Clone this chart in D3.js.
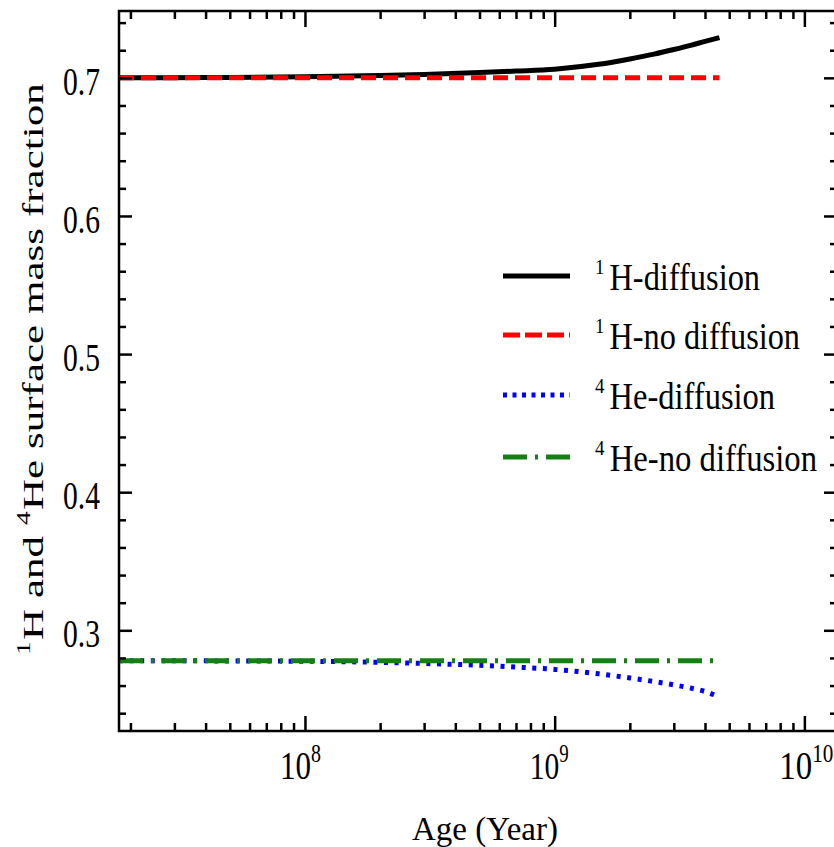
<!DOCTYPE html>
<html>
<head>
<meta charset="utf-8">
<script src="https://cdn.jsdelivr.net/npm/d3@7"></script>
<style>
  html, body { margin: 0; padding: 0; background: #fff; }
  svg { display: block; }
  text { font-family: "Liberation Serif", "Times New Roman", serif; fill: #000; }
</style>
</head>
<body>
<svg id="chart" width="834" height="847"></svg>
<script>
// ---- data ----
const ages      = [1.8e7, 3e7, 5e7, 1e8, 2e8, 3e8, 5e8, 7e8, 1e9, 1.5e9, 2e9, 2.5e9, 3e9, 3.5e9, 4e9, 4.57e9];
const hDiff     = [0.7000, 0.7001, 0.7003, 0.7008, 0.7017, 0.7025, 0.7038, 0.7049, 0.7063, 0.7098, 0.7137, 0.7172, 0.7205, 0.7235, 0.7264, 0.7291];
const hNoDiff   = [0.7000, 0.7000, 0.7000, 0.7000, 0.7000, 0.7000, 0.7000, 0.7000, 0.7000, 0.7000, 0.7000, 0.7000, 0.7000, 0.7000, 0.7000, 0.7000];
const heDiff    = [0.2780, 0.2780, 0.2778, 0.2776, 0.2768, 0.2760, 0.2747, 0.2734, 0.2717, 0.2685, 0.2655, 0.2629, 0.2605, 0.2582, 0.2557, 0.2517];
const heNoDiff  = [0.2780, 0.2780, 0.2780, 0.2780, 0.2780, 0.2780, 0.2780, 0.2780, 0.2780, 0.2780, 0.2780, 0.2780, 0.2780, 0.2780, 0.2780, 0.2780];

const yTickLabels = ["0.3", "0.4", "0.5", "0.6", "0.7"];
const yTickValues = [0.3, 0.4, 0.5, 0.6, 0.7];
const xTickExponents = [8, 9, 10];
const seriesNames = [["1", "H-diffusion"], ["1", "H-no diffusion"], ["4", "He-diffusion"], ["4", "He-no diffusion"]];
const xAxisTitle = "Age (Year)";

// ---- layout ----
const L = 119, R = 837, T = 11, B = 731;
const svg = d3.select("#chart");

const x = d3.scaleLog().domain([1.8e7, 1.351e10]).range([L, R]);
const y = d3.scaleLinear().domain([0.2271, 0.7484]).range([B, T]);

const series = [
  { vals: hDiff,    color: "#000000", dash: null,        legDash: null },
  { vals: hNoDiff,  color: "#ff0000", dash: "15,7",      legDash: "17,5" },
  { vals: heDiff,   color: "#0000ff", dash: "4,6.6",     legDash: "4,5.5" },
  { vals: heNoDiff, color: "#138013", dash: "24,8,3,8",  legDash: "24,8,3,8" }
];

// ---- lines ----
const line = d3.line().x(d => x(d[0])).y(d => y(d[1])).curve(d3.curveMonotoneX);
const gLines = svg.append("g");
series.forEach(s => {
  gLines.append("path")
    .datum(ages.map((a, i) => [a, s.vals[i]]))
    .attr("d", line)
    .attr("fill", "none")
    .attr("stroke", s.color)
    .attr("stroke-width", 5)
    .attr("stroke-dasharray", s.dash)
    .attr("stroke-linecap", "butt");
});

// ---- axes ----
const axisW = 2.5;
const xMajor = xTickExponents.map(e => Math.pow(10, e));
const xMinor = [];
for (let e = 7; e <= 10; e++) for (let m = 2; m <= 9; m++) {
  const v = m * Math.pow(10, e);
  if (v > x.domain()[0] && v < x.domain()[1]) xMinor.push(v);
}
const yMinor = d3.range(0.24, 0.745, 0.02).map(v => +v.toFixed(2)).filter(v => !yTickValues.some(t => Math.abs(t - v) < 1e-6));

function tickAxis(axis, ticksMajor, ticksMinor, majLen, minLen, transform) {
  [[ticksMajor, majLen], [ticksMinor, minLen]].forEach(([tv, len]) => {
    const g = svg.append("g").attr("transform", transform);
    g.call(axis.tickValues(tv).tickSize(len).tickSizeOuter(0).tickFormat(""));
    g.selectAll("path.domain").remove();
    g.selectAll("line").attr("stroke", "#000").attr("stroke-width", axisW);
  });
}
tickAxis(d3.axisTop(x),    xMajor, xMinor, 15, 8, `translate(0,${B})`);   // bottom, ticks inward
tickAxis(d3.axisBottom(x), xMajor, xMinor, 16, 8, `translate(0,${T})`);   // top, ticks inward
tickAxis(d3.axisRight(y),  yTickValues, yMinor, 13, 7, `translate(${L},0)`); // left
tickAxis(d3.axisLeft(y),   yTickValues, yMinor, 13, 7, `translate(${R},0)`); // right

// frame
svg.append("rect").attr("x", L).attr("y", T).attr("width", R - L).attr("height", B - T)
  .attr("fill", "none").attr("stroke", "#000").attr("stroke-width", axisW);

// place a text so its natural width is squeezed to `w` (glyph shapes of the reference are narrow)
function fit(t, px, py, w, rot) {
  const nat = t.node().getComputedTextLength();
  const sx = w / nat;
  t.attr("transform", `translate(${px},${py})${rot ? " rotate(" + rot + ")" : ""} scale(${sx.toFixed(4)},1)`);
  return t;
}

// y tick labels
yTickValues.forEach((v, i) => {
  const t = svg.append("text").attr("font-size", 41).text(yTickLabels[i]);
  fit(t, 63, y(v) + 17, 37);
});

// x tick labels 10^n
const xLabelWidths = [41, 39, 54];
xTickExponents.forEach((e, i) => {
  const px = x(Math.pow(10, e));
  const t = svg.append("text").attr("font-size", 39);
  t.append("tspan").text("10");
  t.append("tspan").attr("font-size", 25).attr("dy", -17).text(String(e));
  fit(t, px - 25, 779, xLabelWidths[i]);
});

// x axis title
fit(svg.append("text").attr("font-size", 34).text(xAxisTitle), 412, 840, 146);

// y axis title
const yt = svg.append("text").attr("font-size", 30);
yt.append("tspan").attr("font-size", 19).attr("dy", -13).text("1");
yt.append("tspan").attr("dx", 1).attr("dy", 13).text("H and ");
yt.append("tspan").attr("font-size", 19).attr("dy", -13).text("4");
yt.append("tspan").attr("dx", 1).attr("dy", 13).text("He surface mass fraction");
fit(yt, 43, 655, 569, -90);

// ---- legend ----
const legRows = [276, 335, 395, 457];
const legTextW = [160, 200, 175, 217];
const lg = svg.append("g");
series.forEach((s, i) => {
  lg.append("line")
    .attr("x1", 503).attr("x2", 570)
    .attr("y1", legRows[i]).attr("y2", legRows[i])
    .attr("stroke", s.color).attr("stroke-width", 5)
    .attr("stroke-dasharray", s.legDash);
  const t = lg.append("text").attr("font-size", 38);
  t.append("tspan").attr("font-size", 22).attr("dy", -16).text(seriesNames[i][0]);
  t.append("tspan").attr("dx", 6).attr("dy", 16).text(seriesNames[i][1]);
  fit(t, 595, legRows[i] + 14, legTextW[i]);
});
</script>
</body>
</html>
